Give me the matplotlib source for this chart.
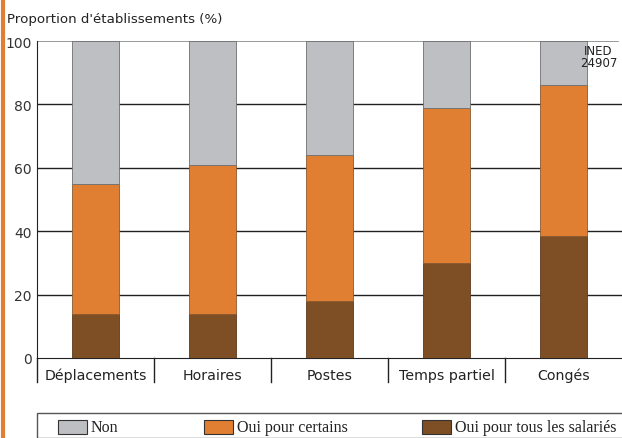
import matplotlib.pyplot as plt
import numpy as np
from matplotlib.patches import Rectangle
from matplotlib.lines import Line2D

# categories and stacked values (%)
categories = ["Déplacements", "Horaires", "Postes", "Temps partiel", "Congés"]
tous = [14, 14, 18, 30, 38.5]        # Oui pour tous les salariés
certains = [41, 47, 46, 49, 47.5]    # Oui pour certains
non = [45, 39, 36, 21, 14]           # Non
series_names = ["Non", "Oui pour certains", "Oui pour tous les salariés"]
colors = {"Non": "#bebfc3", "Oui pour certains": "#e07e31",
          "Oui pour tous les salariés": "#7e4e24"}

W, H = 622, 439
fig = plt.figure(figsize=(W / 100, H / 100), dpi=100)
ax = fig.add_axes([37 / W, 1 - 359 / H, 585 / W, 317 / H])

x = np.arange(len(categories))
bw = 0.40
ax.bar(x, tous, bw, color=colors["Oui pour tous les salariés"], edgecolor="#5a3a1c", linewidth=0.6, zorder=3)
ax.bar(x, certains, bw, bottom=tous, color=colors["Oui pour certains"], edgecolor="#8a5a30", linewidth=0.6, zorder=3)
bottom2 = [a + b for a, b in zip(tous, certains)]
ax.bar(x, non, bw, bottom=bottom2, color=colors["Non"], edgecolor="#6e6e70", linewidth=0.6, zorder=3)

ax.set_xlim(-0.5, len(categories) - 0.5)
ax.set_ylim(0, 100)
ax.set_yticks([0, 20, 40, 60, 80, 100])
ax.tick_params(axis="y", length=0, pad=4, labelsize=10, labelcolor="#333333")
for y in [20, 40, 60, 80]:
    ax.axhline(y, color="#222222", linewidth=1.0, zorder=1)
ax.axhline(100, color="#888888", linewidth=1.2, zorder=1, xmax=0.993)

ax.set_xticks([])
for i, c in enumerate(categories):
    ax.text(i, -3.0, c, ha="center", va="top", fontsize=10.2, color="#222222")
for i in range(len(categories)):
    ax.add_line(Line2D([i - 0.5, i - 0.5], [0, -7.5], color="#222222", linewidth=1.0, clip_on=False))

for s in ["top", "right"]:
    ax.spines[s].set_visible(False)
ax.spines["left"].set_color("#222222")
ax.spines["bottom"].set_color("#222222")

ax.text(0.992, 0.99, "INED\n24907", transform=ax.transAxes, ha="right", va="top",
        fontsize=8.5, family=["Liberation Sans Narrow", "DejaVu Sans"], linespacing=0.9, color="#222222",
        multialignment="center")

fig.text(7 / W, 1 - 20 / H, "Proportion d'établissements (%)", ha="left", va="center",
         fontsize=9.6, color="#222222")

# orange border on the left
fig.add_artist(Line2D([2.5 / W, 2.5 / W], [0, 1], color="#e07e31", linewidth=3))

# legend box drawn by hand
fig.add_artist(Rectangle((37 / W, 0), 600 / W, 1 - 414 / H, transform=fig.transFigure,
                         facecolor="white", edgecolor="#555555", linewidth=1.0))
leg_x = [58, 204, 422]
for xp, name in zip(leg_x, series_names):
    fig.add_artist(Rectangle((xp / W, 1 - 435 / H), 29 / W, 14 / H, transform=fig.transFigure,
                             facecolor=colors[name], edgecolor="#333333", linewidth=0.8))
    fig.text((xp + 33) / W, 1 - 428 / H, name, ha="left", va="center", fontsize=11.5,
             family=["Liberation Serif", "DejaVu Serif"], color="#222222")

fig.savefig("out.png", dpi=100)
